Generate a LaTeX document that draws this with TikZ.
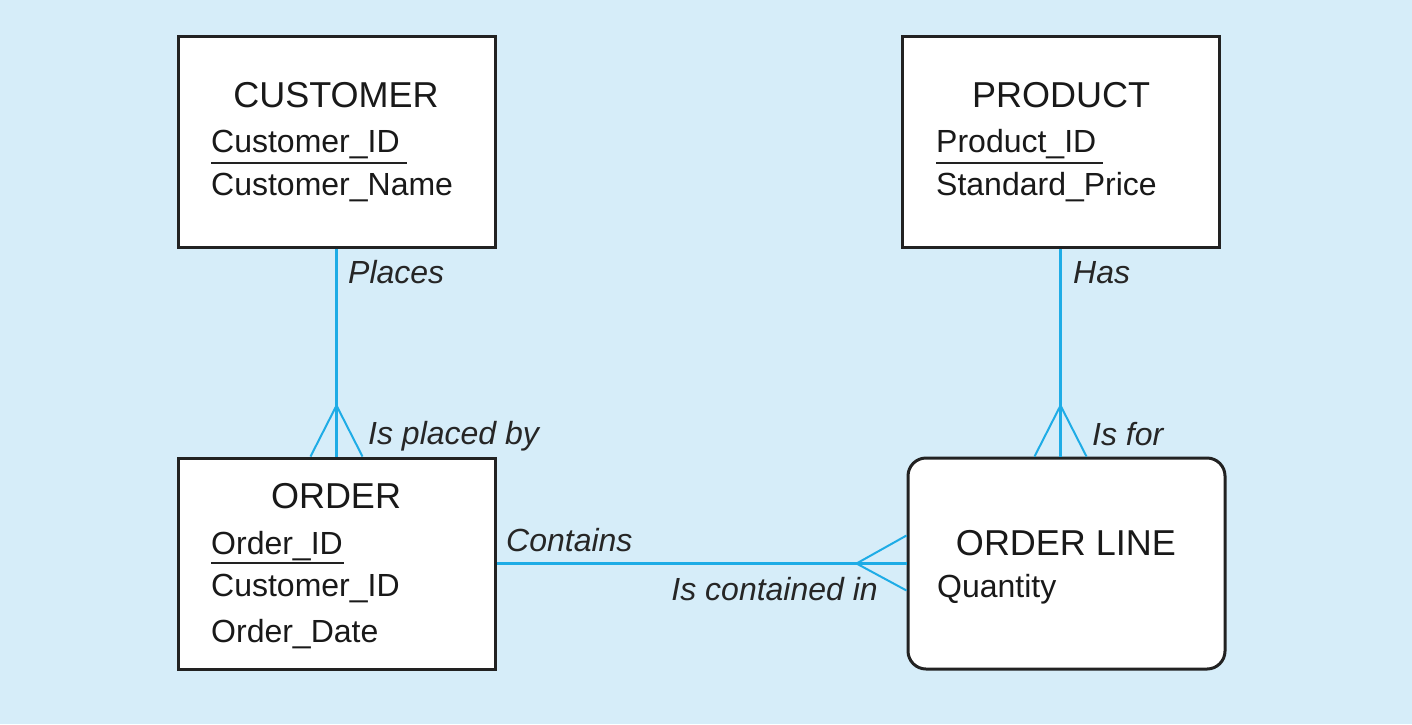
\documentclass[tikz,border=0pt]{standalone}
\usepackage{fontspec}
\setmainfont{Liberation Sans}
\usetikzlibrary{calc}
\definecolor{bgblue}{RGB}{214,237,249}
\definecolor{relblue}{RGB}{30,172,230}
\definecolor{boxline}{RGB}{34,34,34}
\tikzset{
  ebox/.style={draw=boxline, fill=white, line width=3pt, minimum width=317pt, minimum height=211pt, inner sep=0pt},
  title/.style={font=\fontsize{36}{40}\selectfont, anchor=base, inner sep=0pt, text=black!90},
  attr/.style={font=\fontsize{32}{36}\selectfont, anchor=base west, inner sep=0pt, text=black!90},
  rlabel/.style={font=\fontsize{32}{36}\selectfont\itshape, inner sep=0pt, text=black!85},
  rel/.style={draw=relblue, line width=2.6pt},
  foot/.style={draw=relblue, line width=2pt},
  uline/.style={draw=boxline, line width=2pt}
}
\begin{document}
\begin{tikzpicture}[x=1pt,y=-1pt]
\fill[bgblue] (0,0) rectangle (1412,724);
\useasboundingbox (0,0) rectangle (1412,724);

% entity boxes
\node[ebox] (cust) at (336.5,142) {};
\node[ebox] (prod) at (1060.5,142) {};
\node[ebox] (ord) at (336.5,563.5) {};
\node[ebox, rounded corners=18pt] (ol) at (1066.5,563.5) {};

% CUSTOMER texts
\node[title] (custT) at (336,107) {CUSTOMER};
\node[attr] (custId) at (211,152) {Customer\_ID};
\node[attr] (custName) at (211,195) {Customer\_Name};
\draw[uline] (211,163) -- (407,163);

% PRODUCT texts
\node[title] (prodT) at (1061,107) {PRODUCT};
\node[attr] (prodId) at (936,152) {Product\_ID};
\node[attr] (prodPrice) at (936,195) {Standard\_Price};
\draw[uline] (936,163) -- (1103,163);

% ORDER texts
\node[title] (ordT) at (336,508) {ORDER};
\node[attr] (ordId) at (211,554) {Order\_ID};
\node[attr] (ordCust) at (211,596) {Customer\_ID};
\node[attr] (ordDate) at (211,642) {Order\_Date};
\draw[uline] (211,563) -- (344,563);

% ORDER LINE texts
\node[title] (olT) at (1066,555) {ORDER LINE};
\node[attr] (olQty) at (937,597) {Quantity};

% relationship CUSTOMER - ORDER
\coordinate (a1) at ($(ord.north)+(0,-51)$);
\draw[rel] (cust.south) -- (ord.north);
\draw[foot] ($(ord.north)+(-26,0)$) -- (a1) -- ($(ord.north)+(26,0)$);

% relationship PRODUCT - ORDER LINE
\coordinate (hasTop) at (prod.south);
\coordinate (hasBot) at (prod.south |- ol.north);
\coordinate (a2) at ($(hasBot)+(0,-51)$);
\draw[rel] (hasTop) -- (hasBot);
\draw[foot] ($(hasBot)+(-26,0)$) -- (a2) -- ($(hasBot)+(26,0)$);

% relationship ORDER - ORDER LINE
\coordinate (a3) at ($(ol.west)+(-50,0)$);
\draw[rel] (ord.east) -- (ol.west);
\draw[foot] ($(ol.west)+(0,-28)$) -- (a3) -- ($(ol.west)+(0,27)$);

% labels
\node[rlabel, anchor=base west] (lPlaces) at (348,283) {Places};
\node[rlabel, anchor=base west] (lPlacedBy) at (368,444) {Is placed by};
\node[rlabel, anchor=base west] (lHas) at (1073,283) {Has};
\node[rlabel, anchor=base west] (lIsFor) at (1092,445) {Is for};
\node[rlabel, anchor=base west] (lContains) at (506,551) {Contains};
\node[rlabel, anchor=base east] (lContained) at (878,600) {Is contained in};
\end{tikzpicture}
\end{document}
